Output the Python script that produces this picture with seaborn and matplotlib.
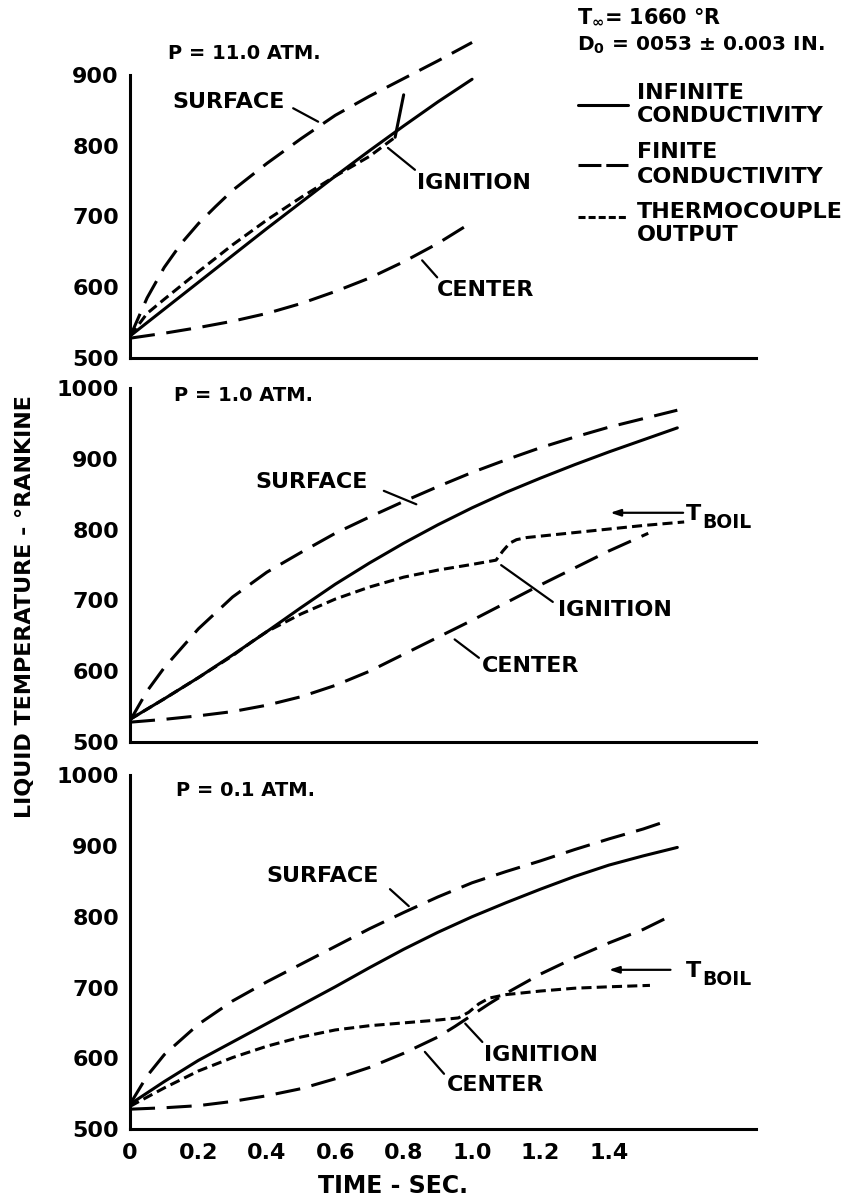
import matplotlib
matplotlib.use("Agg")
import matplotlib.pyplot as plt
from matplotlib.lines import Line2D
import seaborn as sns

sns.set_style("white")
plt.rcParams["font.family"] = ["DejaVu Sans"]
plt.rcParams["font.weight"] = "bold"
plt.rcParams["mathtext.fontset"] = "dejavusans"
for key in ("text.color", "axes.labelcolor", "xtick.color", "ytick.color",
            "axes.edgecolor"):
    plt.rcParams[key] = "black"

# ---------------- data ----------------
# P = 11.0 atm
t_top = [0, 0.05, 0.1, 0.15, 0.2, 0.25, 0.3, 0.4, 0.5, 0.6, 0.7, 0.8, 0.9, 1.0]
top_surface = [530, 585, 628, 662, 690, 714, 737, 775, 810, 843, 870, 895, 920, 946]
t_top_inf = [0, 0.1, 0.2, 0.3, 0.4, 0.5, 0.6, 0.7, 0.8, 0.9, 1.0]
top_infinite = [531, 569, 607, 645, 683, 720, 757, 793, 828, 862, 894]
t_top_center = [0, 0.1, 0.2, 0.3, 0.4, 0.5, 0.6, 0.7, 0.8, 0.9, 1.0]
top_center = [528, 535, 543, 552, 563, 577, 594, 613, 636, 662, 692]
t_top_tc = [0, 0.05, 0.1, 0.2, 0.3, 0.4, 0.5, 0.6, 0.7, 0.775]
top_tc = [531, 563, 583, 622, 660, 695, 727, 757, 785, 812]
t_top_tc_ign = [0.775, 0.80]
top_tc_ign = [812, 872]

# P = 1.0 atm
t_mid_surf = [0, 0.05, 0.1, 0.2, 0.3, 0.4, 0.5, 0.6, 0.7, 0.8, 0.9, 1.0, 1.1,
              1.2, 1.3, 1.4, 1.5, 1.6]
mid_surface = [530, 572, 605, 660, 705, 740, 768, 795, 818, 840, 861, 881, 899,
               916, 931, 945, 957, 969]
t_mid_inf = [0, 0.1, 0.2, 0.3, 0.4, 0.5, 0.6, 0.7, 0.8, 0.9, 1.0, 1.1, 1.2,
             1.3, 1.4, 1.5, 1.6]
mid_infinite = [532, 561, 591, 623, 656, 690, 723, 753, 781, 807, 831, 853, 873,
                892, 910, 927, 944]
t_mid_center = [0, 0.1, 0.2, 0.3, 0.4, 0.5, 0.6, 0.7, 0.8, 0.9, 1.0, 1.1, 1.2,
                1.3, 1.4, 1.515]
mid_center = [528, 532, 537, 543, 552, 564, 580, 600, 624, 648, 672, 697, 722,
              746, 770, 795]
t_mid_tc = [0, 0.1, 0.2, 0.3, 0.36, 0.4, 0.5, 0.6, 0.7, 0.8, 0.9, 1.0, 1.07,
            1.09, 1.11, 1.13, 1.16, 1.2, 1.3, 1.4, 1.5, 1.62]
mid_tc = [532, 561, 591, 622, 643, 656, 681, 702, 719, 733, 743, 751, 757,
          770, 781, 786, 789, 791, 796, 801, 806, 811]
mid_tboil = 824

# P = 0.1 atm
t_bot_surf = [0, 0.05, 0.1, 0.2, 0.3, 0.4, 0.5, 0.6, 0.7, 0.8, 0.9, 1.0, 1.1,
              1.2, 1.3, 1.4, 1.5, 1.58]
bot_surface = [535, 575, 605, 648, 681, 708, 733, 758, 783, 806, 828, 848, 864,
               879, 895, 910, 924, 937]
t_bot_inf = [0, 0.1, 0.2, 0.3, 0.4, 0.5, 0.6, 0.7, 0.8, 0.9, 1.0, 1.1, 1.2,
             1.3, 1.4, 1.5, 1.6]
bot_infinite = [535, 567, 597, 623, 649, 675, 701, 728, 754, 778, 800, 820, 839,
                857, 873, 886, 898]
t_bot_center = [0, 0.1, 0.2, 0.3, 0.4, 0.5, 0.6, 0.7, 0.8, 0.9, 0.95, 1.0, 1.05,
                1.1, 1.2, 1.3, 1.4, 1.5, 1.58]
bot_center = [528, 530, 533, 539, 547, 557, 571, 587, 607, 630, 645, 661, 677,
              692, 719, 742, 763, 782, 801]
t_bot_tc = [0, 0.05, 0.1, 0.2, 0.3, 0.4, 0.5, 0.6, 0.7, 0.8, 0.9, 0.96, 0.99,
            1.02, 1.05, 1.1, 1.2, 1.3, 1.4, 1.52]
bot_tc = [532, 545, 558, 582, 601, 617, 630, 640, 646, 650, 654, 657, 665,
          677, 685, 690, 695, 699, 701, 703]
bot_tboil = 725

x_ticks = [0, 0.2, 0.4, 0.6, 0.8, 1.0, 1.2, 1.4]
x_ticklabels = ["0", "0.2", "0.4", "0.6", "0.8", "1.0", "1.2", "1.4"]

# ---------------- layout ----------------
W, H = 847, 1198
fig = plt.figure(figsize=(W / 100, H / 100), dpi=100)
fig.patch.set_facecolor("white")

X_LEFT, X_RIGHT = 130, 756
XMAX = 1.83
PX_PER_DEG = 0.7075


def add_panel(bottom_px, ymin, ymax):
    top_px = bottom_px - (ymax - ymin) * PX_PER_DEG
    ax = fig.add_axes([X_LEFT / W, 1 - bottom_px / H,
                       (X_RIGHT - X_LEFT) / W, (bottom_px - top_px) / H])
    ax.set_xlim(0, XMAX)
    ax.set_ylim(ymin, ymax)
    ax.patch.set_alpha(0)
    for side in ("top", "right"):
        ax.spines[side].set_visible(False)
    for side in ("left", "bottom"):
        ax.spines[side].set_linewidth(2.2)
        ax.spines[side].set_color("black")
    ax.set_xticks(x_ticks)
    ax.tick_params(axis="both", direction="in", length=6.5, width=2,
                   color="black", labelcolor="black", labelsize=16, pad=8)
    ax.tick_params(axis="x", pad=10)
    return ax


ax_top = add_panel(358, 500, 960)
ax_top.spines["left"].set_bounds(500, 900)
ax_top.set_yticks([500, 600, 700, 800, 900])

ax_mid = add_panel(742, 500, 1000)
ax_mid.set_yticks([500, 600, 700, 800, 900, 1000])

ax_bot = add_panel(1129, 500, 1000)
ax_bot.set_yticks([500, 600, 700, 800, 900, 1000])

for ax in (ax_top, ax_mid):
    ax.set_xticklabels([])
ax_bot.set_xticklabels(x_ticklabels)
for ax in (ax_top, ax_mid, ax_bot):
    for lab in ax.get_yticklabels() + ax.get_xticklabels():
        lab.set_fontweight("bold")

LW = 2.2
SOLID = "-"
FINITE = (0, (8.2, 3.8))
THERMO = (0, (3.3, 1.7))


def curve(ax, t, v, ls):
    sns.lineplot(x=t, y=v, ax=ax, color="black", linewidth=LW, linestyle=ls,
                 estimator=None, sort=False, legend=False)


# top panel curves
curve(ax_top, t_top, top_surface, FINITE)
curve(ax_top, t_top_center, top_center, FINITE)
curve(ax_top, t_top_inf, top_infinite, SOLID)
curve(ax_top, t_top_tc, top_tc, THERMO)
curve(ax_top, t_top_tc_ign, top_tc_ign, SOLID)

# middle panel curves
curve(ax_mid, t_mid_surf, mid_surface, FINITE)
curve(ax_mid, t_mid_center, mid_center, FINITE)
curve(ax_mid, t_mid_inf, mid_infinite, SOLID)
curve(ax_mid, t_mid_tc, mid_tc, THERMO)

# bottom panel curves
curve(ax_bot, t_bot_surf, bot_surface, FINITE)
curve(ax_bot, t_bot_center, bot_center, FINITE)
curve(ax_bot, t_bot_inf, bot_infinite, SOLID)
curve(ax_bot, t_bot_tc, bot_tc, THERMO)

for ax in (ax_top, ax_mid, ax_bot):
    ax.set_xlim(0, XMAX)
    ax.set_xlabel("")
    ax.set_ylabel("")

LABEL_FS = 16


def label(ax, text, xy, leader=None, fs=LABEL_FS):
    ax.text(xy[0], xy[1], text, fontsize=fs, fontweight="bold",
            ha="left", va="center")
    if leader is not None:
        (x0, y0), (x1, y1) = leader
        ax.annotate("", xy=(x1, y1), xytext=(x0, y0),
                    arrowprops=dict(arrowstyle="-", lw=1.6, color="black",
                                    shrinkA=0, shrinkB=0))


def tboil(ax, level, x_from, x_to, x_text):
    ax.annotate("", xy=(x_to, level), xytext=(x_from, level),
                arrowprops=dict(arrowstyle="-|>,head_length=0.6,head_width=0.2",
                                lw=1.6, color="black", shrinkA=0, shrinkB=0))
    ax.text(x_text, level - 10, "T", fontsize=16, fontweight="bold",
            ha="left", va="baseline")
    ax.text(x_text + 0.047, level - 22, "BOIL", fontsize=13.5, fontweight="bold",
            ha="left", va="baseline")


# top panel annotations
label(ax_top, "P = 11.0 ATM.", (0.111, 931), fs=14)
label(ax_top, "SURFACE", (0.123, 862), ((0.477, 853), (0.55, 834)))
label(ax_top, "IGNITION", (0.839, 747), ((0.754, 797), (0.833, 766)))
label(ax_top, "CENTER", (0.898, 596), ((0.854, 638), (0.898, 614)))

# middle panel annotations
label(ax_mid, "P = 1.0 ATM.", (0.128, 990), fs=14)
label(ax_mid, "SURFACE", (0.367, 867), ((0.742, 855), (0.837, 836)))
label(ax_mid, "IGNITION", (1.252, 686), ((1.085, 750), (1.236, 698)))
label(ax_mid, "CENTER", (1.029, 607), ((0.949, 645), (1.02, 619)))
tboil(ax_mid, mid_tboil, 1.617, 1.404, 1.626)

# bottom panel annotations
label(ax_bot, "P = 0.1 ATM.", (0.134, 979), fs=14)
label(ax_bot, "SURFACE", (0.40, 858), ((0.76, 839), (0.815, 815)))
label(ax_bot, "IGNITION", (1.036, 604), ((0.98, 649), (1.03, 623)))
label(ax_bot, "CENTER", (0.925, 562), ((0.862, 609), (0.918, 578)))
tboil(ax_bot, bot_tboil, 1.58, 1.40, 1.626)


# ---------------- legend block ----------------
def ftext(x, y, s, **kw):
    fig.text(x / W, 1 - y / H, s, fontweight="bold", va="center", ha="left", **kw)


def fline(x0, x1, y, ls):
    fig.add_artist(Line2D([x0 / W, x1 / W], [1 - y / H, 1 - y / H],
                          transform=fig.transFigure, color="black",
                          linewidth=LW, linestyle=ls))


LEG_FS = 16
ftext(577, 17, r"T$_{\mathbf{\infty}}$= 1660 °R", fontsize=15)
ftext(577, 45, r"D$_{\mathbf{0}}$ = 0053 ± 0.003 IN.", fontsize=14.5)
fline(578, 628, 105, SOLID)
ftext(637, 93, "INFINITE", fontsize=LEG_FS)
ftext(637, 116, "CONDUCTIVITY", fontsize=LEG_FS)
fline(578, 628, 165, (0, (7.5, 1.6)))
ftext(637, 152, "FINITE", fontsize=LEG_FS)
ftext(637, 177, "CONDUCTIVITY", fontsize=LEG_FS)
fline(578, 628, 217, (0, (2.3, 1.0)))
ftext(637, 212, "THERMOCOUPLE", fontsize=LEG_FS)
ftext(637, 235, "OUTPUT", fontsize=LEG_FS)

# axis titles
fig.text(25 / W, 1 - 607 / H, "LIQUID TEMPERATURE - °RANKINE", rotation=90,
         ha="center", va="center", fontsize=16, fontweight="bold")
fig.text(393 / W, 1 - 1186 / H, "TIME - SEC.", ha="center", va="center",
         fontsize=17, fontweight="bold")

fig.savefig("out.png", dpi=100, facecolor="white")
